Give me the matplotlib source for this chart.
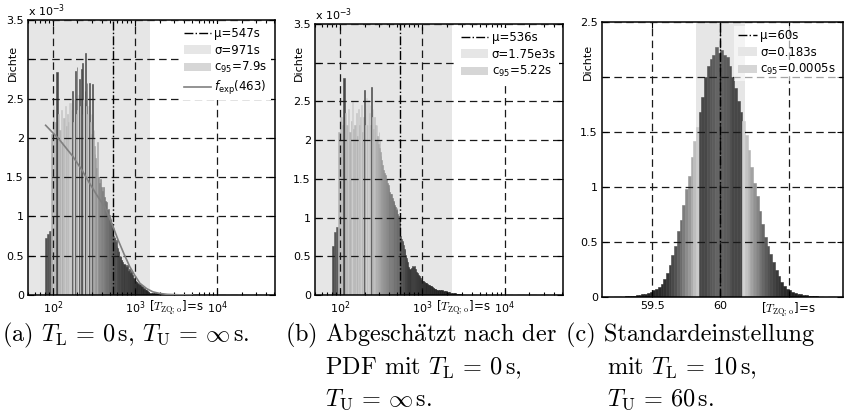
import matplotlib
matplotlib.use('Agg')
import matplotlib.pyplot as plt
import numpy as np
from matplotlib.ticker import LogLocator, NullFormatter

plt.rcParams['font.family'] = ['DejaVu Sans']
plt.rcParams['mathtext.fontset'] = 'dejavusans'

# --- data (density in units of 1e-3 for a/b) ---
# histogram bin edges in s
ab_edges = np.concatenate([np.arange(80, 330, 5), np.arange(330, 700, 10),
                           np.arange(700, 1500, 25), np.arange(1500, 3001, 100)])
a_density = [0.72, 0.78, 0.81, 2.05, 2.4, 2.2, 2.84, 2.3, 2.1, 2.35,
             1.95, 2.25, 2.4, 2.15, 2.3, 2.2, 2.45, 2.35, 2.6, 2.2,
             2.5, 2.85, 2.3, 2.9, 2.35, 2.55, 2.75, 2.4, 2.88, 2.3,
             2.95, 2.5, 2.45, 2.6, 3.08, 2.4, 2.7, 2.3, 2.4, 2.15,
             2.7, 2.2, 2.3, 2.05, 2.3, 2.68, 2.0, 2.1, 1.9, 1.8,
             1.75, 1.62, 1.95, 1.5, 1.42, 1.48, 1.38, 1.33, 1.38, 1.25,
             1.2, 1.15, 1.18, 1.08, 1.1, 1.0, 1.02, 0.95, 0.98, 0.92,
             0.88, 0.9, 0.75, 0.72, 0.74, 0.68, 0.7, 0.62, 0.6, 0.58,
             0.55, 0.56, 0.5, 0.48, 0.5, 0.45, 0.44,
             0.42, 0.4, 0.38, 0.36, 0.38, 0.3, 0.33, 0.28, 0.3, 0.25,
             0.22, 0.2, 0.18, 0.16, 0.17, 0.14, 0.15, 0.13, 0.14, 0.12,
             0.1, 0.11, 0.09, 0.08, 0.09, 0.07, 0.06, 0.06, 0.05, 0.05,
             0.04, 0.04,
             0.03, 0.03, 0.025, 0.02, 0.02, 0.015, 0.015, 0.012, 0.01, 0.01,
             0.008, 0.008, 0.006, 0.005, 0.005]
b_density = [0.63, 0.82, 0.88, 2.1, 2.3, 2.2, 2.8, 2.35, 2.2, 2.4,
             2.1, 2.25, 2.5, 2.15, 2.2, 2.35, 2.05, 2.4, 2.2, 2.3,
             2.45, 2.1, 2.3, 2.65, 2.2, 2.4, 2.55, 2.2, 2.52, 2.35,
             2.45, 2.2, 2.68, 2.3, 2.4, 2.15, 2.3, 2.1, 2.2, 2.0,
             2.2, 2.05, 1.95, 2.1, 1.9, 2.0, 1.85, 1.8, 1.75, 1.68,
             1.62, 1.58, 1.55, 1.5, 1.45, 1.42, 1.38, 1.33, 1.3, 1.3,
             1.25, 1.22, 1.2, 1.16, 1.14, 1.1, 1.12, 1.05, 1.02, 1.0,
             0.95, 0.76, 0.74, 0.72, 0.7, 0.68, 0.65, 0.6, 0.58, 0.52,
             0.5, 0.48, 0.45, 0.42, 0.38, 0.36, 0.35,
             0.34, 0.35, 0.37, 0.36, 0.38, 0.33, 0.3, 0.28, 0.26, 0.24,
             0.22, 0.2, 0.18, 0.18, 0.17, 0.16, 0.15, 0.15, 0.14, 0.13,
             0.13, 0.12, 0.12, 0.11, 0.1, 0.1, 0.09, 0.09, 0.08, 0.08,
             0.08, 0.07,
             0.07, 0.06, 0.06, 0.05, 0.05, 0.04, 0.04, 0.03, 0.03, 0.02,
             0.02, 0.015, 0.012, 0.01, 0.008]

# fitted exponential in panel a
fexp_t = [82, 120, 177, 230, 282, 350, 431, 520, 626, 740, 869, 1000,
          1151, 1400, 1660, 2000, 2500, 3500, 5000]
fexp_d = [2.16, 1.98, 1.76, 1.58, 1.42, 1.26, 1.12, 0.92, 0.70, 0.52, 0.36, 0.25,
          0.15, 0.08, 0.04, 0.02, 0.008, 0.002, 0.0]

# panel c, bins of 0.02 s
c_edges = np.linspace(59.30, 60.80, 76)
c_density = [0.005, 0.007, 0.01, 0.012, 0.015, 0.02, 0.025, 0.03, 0.035, 0.045,
             0.06, 0.075, 0.095, 0.12, 0.16, 0.22, 0.29, 0.38, 0.46, 0.6,
             0.7, 0.84, 0.98, 1.1, 1.27, 1.42, 1.55, 1.68, 1.82, 2.0,
             2.1, 2.16, 2.2, 2.27, 2.22,
             2.25, 2.2, 2.18, 2.1, 2.0, 1.9, 1.78, 1.68, 1.6, 1.47,
             1.34, 1.18, 1.04, 0.92, 0.78, 0.66, 0.55, 0.46, 0.39, 0.32,
             0.25, 0.19, 0.14, 0.1, 0.075, 0.06, 0.048, 0.038, 0.03, 0.024,
             0.019, 0.015, 0.012, 0.009, 0.007, 0.005, 0.004, 0.003, 0.002, 0.002]

stats = {'a': (547, 971, 7.9), 'b': (536, 1750, 5.22), 'c': (60, 0.183, 0.0005)}
legend_txt = {'a': ['μ=547s', 'σ=971s', 'c$_{95}$=7.9s', '$f_{\\mathrm{exp}}$(463)'],
              'b': ['μ=536s', 'σ=1.75e3s', 'c$_{95}$=5.22s'],
              'c': ['μ=60s', 'σ=0.183s', 'c$_{95}$=0.0005s']}
ab_yticks = [0, 0.5, 1, 1.5, 2, 2.5, 3, 3.5]
ab_ylabels = ['0', '0.5', '1', '1.5', '2', '2.5', '', '3.5']
c_yticks = [0, 0.5, 1, 1.5, 2, 2.5]
c_ylabels = ['0', '0.5', '1', '1.5', '', '2.5']

unit_lbl = r'[$\mathit{T}_{\mathrm{ZQ;\,o}}$]=s'


def shade(h, wrap):
    g = 0.12 + 0.72 * (h % wrap) / wrap
    if h >= wrap:
        g = max(g, 0.28)
    return str(round(g, 3))


def style_axes(ax):
    ax.tick_params(which='both', direction='in', top=True, right=True, labelsize=8, width=0.8)
    ax.tick_params(which='major', length=4, pad=3)
    ax.tick_params(which='minor', length=2)
    for s in ax.spines.values():
        s.set_linewidth(1.1)
    ax.grid(True, which='major', color='0.1', linestyle=(0, (6, 3.5)), linewidth=0.9)
    ax.set_axisbelow(False)


fig = plt.figure(figsize=(8.46, 4.2), dpi=100)
W, H = 846, 420
boxes = {'a': (28, 20, 275, 295), 'b': (315, 24, 563, 295), 'c': (602, 22, 843, 297)}
axs = {}
for k, (l, t, r, b) in boxes.items():
    axs[k] = fig.add_axes([l / W, 1 - b / H, (r - l) / W, (b - t) / H])

leg_kw = dict(loc='upper right', fontsize=8.5, frameon=True, facecolor='white',
              edgecolor='none', fancybox=False, handletextpad=0.3, labelspacing=0.3,
              borderaxespad=0.3, borderpad=0.3)

for k, dens in (('a', a_density), ('b', b_density)):
    ax = axs[k]
    mu, sig, c95 = stats[k]
    ax.set_xscale('log')
    ax.set_xlim(50, 5.1e4)
    ax.set_ylim(0, 3.5)
    widths = np.diff(ab_edges)
    cols = [shade(h, 2.6) for h in dens]
    ax.bar(ab_edges[:-1], dens, width=widths, align='edge', color=cols,
           edgecolor=cols, linewidth=0.4, zorder=1)
    hs = ax.axvspan(50, mu + sig, color='0.9', lw=0, zorder=0.5)
    hc = ax.axvspan(mu - c95, mu + c95, color='0.84', lw=0, zorder=0.6)
    hm = ax.axvline(mu, color='k', ls='-.', lw=1, zorder=3)
    handles = [hm, hs, hc]
    if k == 'a':
        hf, = ax.plot(fexp_t, fexp_d, color='0.5', lw=1.2, zorder=3)
        handles.append(hf)
    ax.set_xticks([1e2, 1e3, 1e4])
    ax.xaxis.set_minor_locator(LogLocator(base=10, subs=np.arange(2, 10)))
    ax.xaxis.set_minor_formatter(NullFormatter())
    ax.set_yticks(ab_yticks)
    ax.set_yticklabels(ab_ylabels)
    style_axes(ax)
    ax.text(10 ** 3.5, -0.012, unit_lbl, transform=ax.get_xaxis_transform(),
            ha='center', va='top', fontsize=8.5, math_fontfamily='cm')
    ax.text(0.0, 1.005, r'x 10$^{-3}$', transform=ax.transAxes, ha='left', va='bottom', fontsize=8)
    leg = ax.legend(handles, legend_txt[k], handlelength=2.3, framealpha=1, **leg_kw)
    leg.set_zorder(5)

# panel c
ax = axs['c']
mu, sig, c95 = stats['c']
ax.set_xlim(59.13, 60.9)
ax.set_ylim(0, 2.5)
cols = [shade(h, 1.65) for h in c_density]
ax.bar(c_edges[:-1], c_density, width=np.diff(c_edges), align='edge', color=cols,
       edgecolor=cols, linewidth=0.4, zorder=1)
hs = ax.axvspan(mu - sig, mu + sig, color='0.9', lw=0, zorder=0.5)
hc = ax.axvspan(mu - c95, mu + c95, color='0.84', lw=0, zorder=0.6)
hm = ax.axvline(mu, color='k', ls='-.', lw=1, zorder=3)
ax.set_xticks([59.5, 60, 60.5])
ax.set_xticklabels(['59.5', '60', ''])
ax.set_yticks(c_yticks)
ax.set_yticklabels(c_ylabels)
style_axes(ax)
ax.text(60.5, -0.012, unit_lbl, transform=ax.get_xaxis_transform(),
        ha='center', va='top', fontsize=8.5, math_fontfamily='cm')
leg = ax.legend([hm, hs, hc], legend_txt['c'], handlelength=1.6, framealpha=0.6, **leg_kw)
leg.set_zorder(5)

for k, xoff, yy in (('a', -0.04, 0.845), ('b', -0.045, 0.855), ('c', -0.037, 0.855)):
    axs[k].set_ylabel('Dichte', fontsize=8)
    axs[k].yaxis.set_label_coords(xoff, yy)

# captions
cap = dict(family=['cmr10', 'DejaVu Serif'], math_fontfamily='cm', size=17.5, va='baseline', ha='left')
fig.text(2 / W, 1 - 341 / H, r'(a) $T_\mathrm{L}\,=\,0\,\mathrm{s}$, $T_\mathrm{U}\,=\,\infty\,\mathrm{s}$.', **cap)
fig.text(285 / W, 1 - 341 / H, r'(b) Abgesch$\ddot{\mathrm{a}}$tzt nach der', **cap)
fig.text(325 / W, 1 - 374 / H, r'PDF mit $T_\mathrm{L}\,=\,0\,\mathrm{s}$,', **cap)
fig.text(325 / W, 1 - 406 / H, r'$T_\mathrm{U}\,=\,\infty\,\mathrm{s}$.', **cap)
fig.text(566 / W, 1 - 341 / H, '(c) Standardeinstellung', **cap)
fig.text(607 / W, 1 - 374 / H, r'mit $T_\mathrm{L}\,=\,10\,\mathrm{s}$,', **cap)
fig.text(607 / W, 1 - 406 / H, r'$T_\mathrm{U}\,=\,60\,\mathrm{s}$.', **cap)

fig.savefig('out.png', dpi=100)
